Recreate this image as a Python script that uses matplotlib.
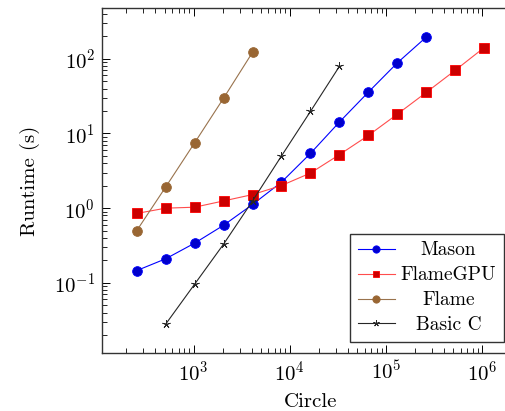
import matplotlib
matplotlib.use("Agg")
from matplotlib import pyplot as plt
from matplotlib.ticker import LogLocator, NullFormatter
import numpy as np

plt.rcParams['font.family'] = ['cmr10', 'DejaVu Serif']
plt.rcParams['mathtext.fontset'] = 'cm'
plt.rcParams['axes.formatter.use_mathtext'] = True

# problem sizes (agents)
circle_mason = [256, 512, 1024, 2048, 4096, 8192, 16384, 32768, 65536, 131072, 262144]
circle_gpu = [256, 512, 1024, 2048, 4096, 8192, 16384, 32768, 65536, 131072, 262144, 524288, 1048576]
circle_flame = [256, 512, 1024, 2048, 4096]
circle_basic = [512, 1024, 2048, 4096, 8192, 16384, 32768]

# runtimes in seconds
rt_mason = [0.146, 0.21, 0.34, 0.59, 1.12, 2.23, 5.4, 14.2, 35.7, 88, 195]
rt_gpu = [0.85, 1.0, 1.03, 1.25, 1.52, 2.01, 2.95, 5.2, 9.4, 18.1, 35.4, 70, 141]
rt_flame = [0.50, 1.92, 7.5, 29.7, 122]
rt_basic = [0.028, 0.096, 0.33, 1.25, 5.0, 19.7, 79]

fig = plt.figure(figsize=(5.05, 4.11), dpi=100)
ax = fig.add_axes([0.202, 0.141, 0.825, 0.8395])

ax.plot(circle_mason, rt_mason, '-', color=(0, 0, 1), lw=0.8, marker='o', ms=7,
        mfc=(0, 0, 0.8), mec=(0, 0, 1), mew=0.6, label='Mason')
ax.plot(circle_gpu, rt_gpu, '-', color=(1, 0.3, 0.3), lw=0.8, marker='s', ms=6.5,
        mfc=(0.8, 0, 0), mec=(1, 0, 0), mew=0.6, label='FlameGPU')
ax.plot(circle_flame, rt_flame, '-', color=(0.6, 0.45, 0.3), lw=0.8, marker='o', ms=7,
        mfc=(0.6, 0.4, 0.2), mec=(0.6, 0.4, 0.2), mew=0.6, label='Flame')
ax.plot(circle_basic, rt_basic, '-', color=(0.15, 0.15, 0.15), lw=0.8, marker=(5, 2, 0), ms=6,
        mec=(0.15, 0.15, 0.15), mew=0.6, label='Basic C')

ax.set_xscale('log')
ax.set_yscale('log')
ax.set_xlim(10 ** 2.047, 10 ** 6.38)
ax.set_ylim(10 ** -1.94, 10 ** 2.68)

for a in (ax.xaxis, ax.yaxis):
    a.set_major_locator(LogLocator(base=10, numticks=20))
    a.set_minor_locator(LogLocator(base=10, subs=np.arange(2, 10), numticks=20))
    a.set_minor_formatter(NullFormatter())
ax.tick_params(which='both', direction='in', top=True, right=True, labelsize=15)
ax.tick_params(which='major', length=6, width=0.7, pad=5)
ax.tick_params(which='minor', length=3.5, width=0.6)
for s in ax.spines.values():
    s.set_linewidth(1.0)
    s.set_color('#333333')

ax.set_xlabel('Circle', fontsize=15, labelpad=6)
ax.set_ylabel('Runtime (s)', fontsize=15, labelpad=10)

leg = ax.legend(loc='lower right', bbox_to_anchor=(0.965, 0.032), fontsize=14,
                frameon=True, fancybox=False, edgecolor='#333333', framealpha=1,
                handlelength=1.9, handletextpad=0.3, borderpad=0.4, labelspacing=0.36,
                borderaxespad=0, markerscale=0.75)
leg.get_frame().set_linewidth(1.0)

# center the legend entries like pgfplots
renderer = fig.canvas.get_renderer()
widths = [t.get_window_extent(renderer).width for t in leg.get_texts()]
wmax = max(widths)
for t, w in zip(leg.get_texts(), widths):
    t.set_position(((wmax - w) / 2, 0))

fig.savefig('out.png', dpi=100)
